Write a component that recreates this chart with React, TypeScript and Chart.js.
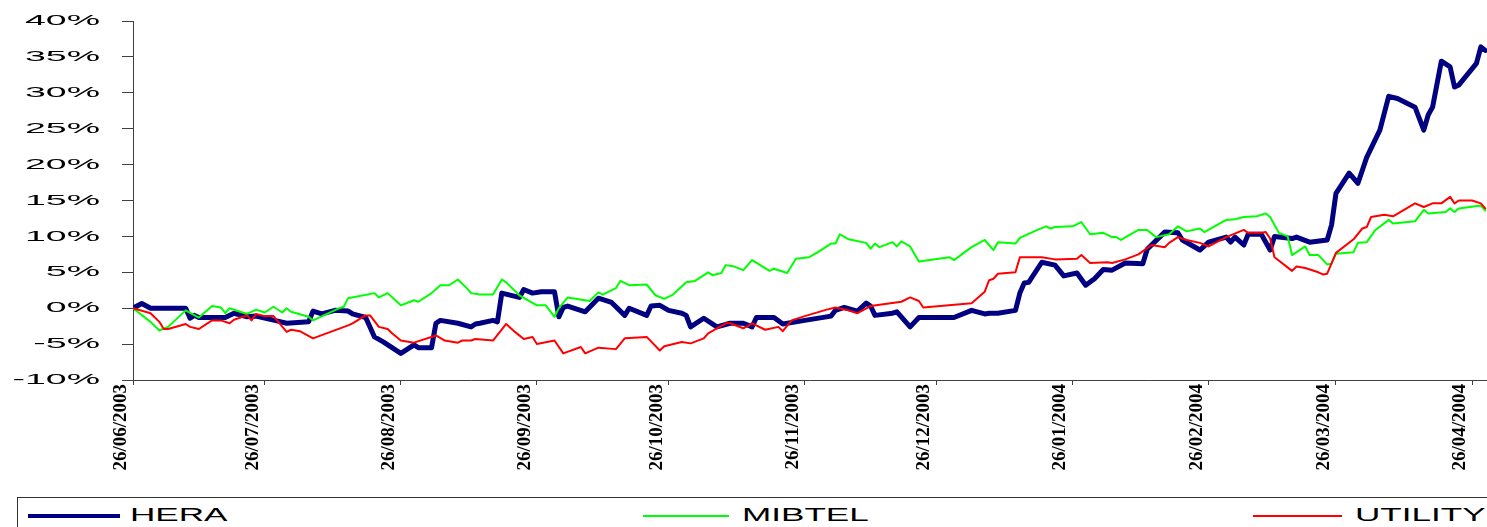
import React, { useEffect, useRef } from "react";
import { Chart, registerables } from "chart.js";

Chart.register(...registerables);

// x axis: calendar days since 26/06/2003
const xTickDays = [0, 30, 61, 92, 122, 153, 183, 214, 245, 274, 305];
const xTickLabels = [
  "26/06/2003", "26/07/2003", "26/08/2003", "26/09/2003", "26/10/2003", "26/11/2003",
  "26/12/2003", "26/01/2004", "26/02/2004", "26/03/2004", "26/04/2004",
];
const xMaxDay = 308.4;
const yMin = -10;
const yMax = 40;
const yStep = 5;

const seriesNames = ["HERA", "MIBTEL", "UTILITY"];

// [day, % change]
const heraPoints: [number, number][] = [
  [0, 0], [2, 0.65], [4, 0], [12, 0], [13, -1.4], [14, -1.0], [15, -1.3], [21, -1.3], [23, -0.7],
  [26, -1.2], [28, -1.1], [33, -1.8], [35, -2.1], [40, -1.9], [41, -0.4], [43, -0.8], [46, -0.3],
  [49, -0.4], [50, -0.8], [53, -1.3], [55, -4.0], [57, -4.7], [61, -6.3], [64, -5.1], [65, -5.5],
  [68, -5.5], [69, -2.1], [70, -1.7], [74, -2.1], [77, -2.6], [78, -2.2], [79, -2.1], [82, -1.7],
  [83, -1.9], [84, 2.1], [88, 1.5], [89, 2.6], [91, 2.1], [93, 2.3], [96, 2.3], [97, -1.2],
  [98, 0.1], [99, 0.3], [103, -0.5], [106, 1.4], [109, 0.8], [112, -1.0], [113, 0], [117, -1.0],
  [118, 0.3], [120, 0.4], [122, -0.3], [125, -0.7], [126, -1.0], [127, -2.6], [130, -1.4],
  [133, -2.6], [136, -2.1], [139, -2.1], [141, -2.6], [142, -1.3], [146, -1.3], [148, -2.2],
  [153, -1.7], [159, -1.1], [160, -0.3], [162, 0.1], [165, -0.4], [167, 0.7], [168, 0.3],
  [169, -1.0], [173, -0.7], [174, -0.5], [177, -2.6], [179, -1.3], [187, -1.3], [191, -0.3],
  [194, -0.8], [195, -0.7], [197, -0.7], [201, -0.3], [202, 2.1], [203, 3.5], [204, 3.6],
  [207, 6.4], [210, 6.0], [212, 4.5], [215, 4.9], [217, 3.2], [219, 4.1], [221, 5.4], [223, 5.3],
  [226, 6.3], [230, 6.2], [231, 8.2], [234, 10.0], [235, 10.6], [238, 10.5], [239, 9.5],
  [243, 8.1], [245, 9.2], [249, 9.9], [250, 9.2], [251, 9.9], [253, 8.8], [254, 10.3],
  [257, 10.3], [259, 8.1], [260, 10.0], [264, 9.7], [265, 9.9], [268, 9.2], [272, 9.5],
  [273, 11.6], [274, 16.0], [277, 18.8], [279, 17.4], [281, 21.0], [284, 24.8], [286, 29.5],
  [288, 29.2], [292, 28.0], [294, 24.8], [295, 26.9], [296, 28.0], [298, 34.4], [300, 33.6],
  [301, 30.8], [302, 31.1], [306, 34.1], [307, 36.4], [308, 35.9],
];

const mibtelPoints: [number, number][] = [
  [0, 0], [4, -1.9], [6, -3.1], [8, -2.6], [12, -0.3], [15, -1.3], [18, 0.3], [20, 0.1], [21, -0.7],
  [22, 0], [26, -0.8], [28, -0.2], [30, -0.6], [32, 0.2], [34, -0.6], [35, 0], [36, -0.5],
  [40, -1.2], [41, -1.7], [47, 0], [48, 0.2], [49, 1.4], [55, 2.1], [56, 1.5], [58, 2.1],
  [61, 0.4], [64, 1.1], [65, 0.9], [68, 2.1], [70, 3.2], [72, 3.2], [74, 4.0], [76, 2.8],
  [77, 2.1], [79, 1.9], [82, 1.9], [84, 4.0], [85, 3.6], [88, 1.8], [92, 0.4], [94, 0.4],
  [96, -1.2], [97, 0], [99, 1.5], [104, 1.0], [106, 2.2], [107, 1.9], [110, 2.8], [111, 3.8],
  [113, 3.2], [117, 3.3], [119, 1.8], [121, 1.3], [123, 1.9], [126, 3.6], [128, 3.8], [131, 5.0],
  [132, 4.6], [134, 4.9], [135, 6.0], [137, 5.8], [139, 5.3], [141, 6.7], [145, 5.2], [146, 5.5],
  [149, 4.9], [151, 6.9], [154, 7.1], [156, 7.8], [159, 9.0], [160, 9.0], [161, 10.3], [163, 9.6],
  [167, 9.1], [168, 8.3], [169, 9.0], [170, 8.5], [173, 9.2], [174, 8.6], [175, 9.3], [177, 8.6],
  [179, 6.5], [186, 7.1], [187, 6.7], [191, 8.5], [194, 9.5], [196, 8.1], [197, 9.2], [201, 9.0],
  [202, 9.8], [206, 10.9], [208, 11.4], [209, 11.1], [210, 11.3], [214, 11.4], [216, 12.0],
  [218, 10.3], [221, 10.5], [223, 9.9], [224, 9.9], [225, 9.5], [229, 10.9], [231, 10.9],
  [233, 9.9], [236, 10.3], [238, 11.4], [240, 10.7], [243, 11.1], [244, 10.6], [249, 12.3],
  [251, 12.4], [253, 12.7], [256, 12.8], [258, 13.2], [259, 12.7], [261, 10.5], [263, 10.0],
  [264, 7.4], [267, 8.6], [268, 7.4], [270, 7.4], [272, 6.1], [273, 6.2], [274, 7.6], [278, 7.8],
  [279, 9.1], [281, 9.2], [283, 10.9], [286, 12.3], [287, 11.8], [292, 12.1], [294, 13.7],
  [295, 13.2], [299, 13.4], [300, 13.9], [301, 13.4], [302, 13.9], [307, 14.3], [308, 13.6],
];

const utilityPoints: [number, number][] = [
  [0, 0], [4, -0.7], [6, -1.9], [7, -2.9], [8, -2.9], [12, -2.2], [13, -2.6], [15, -2.9],
  [18, -1.7], [20, -1.7], [22, -2.1], [23, -1.6], [26, -1.0], [27, -1.7], [28, -0.8], [30, -1.1],
  [32, -1.1], [35, -3.3], [36, -3.0], [38, -3.2], [41, -4.2], [49, -2.4], [50, -2.1], [53, -1.0],
  [54, -1.0], [56, -2.6], [58, -2.9], [59, -3.5], [61, -4.5], [64, -4.8], [69, -3.8], [71, -4.5],
  [74, -4.8], [75, -4.5], [77, -4.5], [78, -4.3], [82, -4.5], [85, -2.2], [87, -3.3], [89, -4.3],
  [91, -4.0], [92, -5.0], [96, -4.5], [98, -6.3], [102, -5.4], [103, -6.3], [106, -5.5],
  [110, -5.7], [112, -4.2], [117, -4.0], [120, -5.9], [121, -5.3], [125, -4.7], [127, -4.9],
  [130, -4.2], [131, -3.5], [135, -2.1], [136, -2.1], [139, -2.8], [140, -2.5], [141, -2.1],
  [144, -3.0], [147, -2.6], [148, -3.2], [150, -1.7], [153, -1.1], [158, -0.2], [160, 0.1],
  [163, -0.3], [165, -0.7], [168, 0.3], [175, 0.9], [177, 1.5], [179, 1.0], [180, 0.1],
  [191, 0.7], [194, 2.3], [195, 3.9], [196, 4.1], [197, 4.8], [201, 5.0], [202, 7.1], [207, 7.1],
  [210, 6.8], [215, 6.9], [216, 7.4], [218, 6.3], [222, 6.4], [223, 6.3], [226, 6.8], [229, 7.5],
  [232, 8.8], [235, 8.5], [236, 9.1], [238, 9.9], [240, 9.5], [243, 9.1], [245, 8.6], [249, 9.9],
  [253, 10.9], [254, 10.5], [257, 10.5], [258, 10.6], [259, 9.7], [260, 7.1], [264, 5.2],
  [265, 5.8], [267, 5.6], [270, 5.0], [271, 4.7], [272, 4.8], [274, 7.7], [278, 9.6], [280, 11.1],
  [281, 11.3], [282, 12.7], [285, 13.0], [287, 12.8], [292, 14.6], [294, 14.1], [296, 14.6],
  [298, 14.6], [300, 15.5], [301, 14.6], [302, 15.0], [305, 15.0], [307, 14.6], [308, 13.9],
];

const seriesColors = ["#000080", "#00ff00", "#ff0000"];
const seriesWidths = [5, 2, 2];

const AXIS_COLOR = "#404040";

const stretchedLabels = {
  id: "stretchedLabels",
  afterDraw(chart: any) {
    const ctx = chart.ctx as CanvasRenderingContext2D;
    const ys = chart.scales.y;
    const xs = chart.scales.x;
    const area = chart.chartArea;
    ctx.save();
    ctx.fillStyle = "#000";
    // y labels (horizontally stretched, as in the reference)
    ctx.font = "15px 'Liberation Sans', Arial, sans-serif";
    ctx.textAlign = "right";
    ctx.textBaseline = "middle";
    ys.ticks.forEach((t: any) => {
      const y = ys.getPixelForValue(t.value);
      ctx.save();
      ctx.translate(area.left - 33, y);
      ctx.scale(2.5, 1);
      ctx.fillText(`${t.value}%`, 0, 0);
      ctx.restore();
    });
    // x labels rotated, reading upward
    ctx.font = "bold 19px 'Liberation Serif', 'Times New Roman', serif";
    ctx.textAlign = "right";
    ctx.textBaseline = "middle";
    xTickDays.forEach((d, i) => {
      const x = xs.getPixelForValue(d) - 12;
      ctx.save();
      ctx.translate(x, area.bottom + 4);
      ctx.rotate(-Math.PI / 2);
      ctx.fillText(xTickLabels[i], 0, 0);
      ctx.restore();
    });
    ctx.restore();
  },
};

export default function App() {
  const canvasRef = useRef<HTMLCanvasElement | null>(null);

  useEffect(() => {
    if (!canvasRef.current) return;
    const all = [heraPoints, mibtelPoints, utilityPoints];
    const chart = new Chart(canvasRef.current, {
      type: "line",
      data: {
        datasets: all.map((pts, i) => ({
          label: seriesNames[i],
          data: pts.map(([x, y]) => ({ x, y })),
          borderColor: seriesColors[i],
          backgroundColor: seriesColors[i],
          borderWidth: seriesWidths[i],
          pointRadius: 0,
          tension: 0,
          fill: false,
          borderJoinStyle: "round",
          borderCapStyle: "round",
          order: 3 - i,
        })),
      },
      options: {
        animation: false,
        responsive: false,
        maintainAspectRatio: false,
        layout: { padding: { top: 21, left: 0, right: 0, bottom: 0 } },
        plugins: {
          legend: { display: false },
          tooltip: { enabled: false },
        },
        scales: {
          x: {
            type: "linear",
            min: 0,
            max: xMaxDay,
            afterBuildTicks: (s: any) => {
              s.ticks = xTickDays.map((v) => ({ value: v }));
            },
            afterFit: (s: any) => {
              s.height = 110;
            },
            ticks: { display: false },
            grid: { drawOnChartArea: false, drawTicks: true, tickLength: 5, color: AXIS_COLOR },
            border: { display: true, color: AXIS_COLOR, width: 1 },
          },
          y: {
            type: "linear",
            min: yMin,
            max: yMax,
            afterFit: (s: any) => {
              s.width = 133;
            },
            ticks: { display: false, stepSize: yStep },
            grid: { drawOnChartArea: false, drawTicks: true, tickLength: 11, color: AXIS_COLOR },
            border: { display: true, color: AXIS_COLOR, width: 1 },
          },
        },
      } as any,
      plugins: [stretchedLabels],
    });
    return () => chart.destroy();
  }, []);

  const legendFont = "'Liberation Sans', Arial, sans-serif";
  const items = [
    { lineLeft: 28, lineWidth: 92, textLeft: 130, h: 4 },
    { lineLeft: 643, lineWidth: 86, textLeft: 742, h: 2 },
    { lineLeft: 1253, lineWidth: 89, textLeft: 1355, h: 2 },
  ];

  return (
    <div
      style={{
        position: "absolute",
        left: 0,
        top: 0,
        width: 1487,
        height: 527,
        overflow: "hidden",
        background: "#fff",
      }}
    >
      <canvas ref={canvasRef} width={1487} height={490} style={{ display: "block" }} />
      <div
        style={{
          position: "absolute",
          left: 17,
          top: 497,
          width: 1500,
          height: 60,
          border: "1.5px solid #333",
          boxSizing: "border-box",
        }}
      />
      {items.map((it, i) => (
        <React.Fragment key={seriesNames[i]}>
          <div
            style={{
              position: "absolute",
              left: it.lineLeft,
              top: 516 - it.h / 2,
              width: it.lineWidth,
              height: it.h,
              background: seriesColors[i],
            }}
          />
          <div
            style={{
              position: "absolute",
              left: it.textLeft,
              top: 506,
              fontFamily: legendFont,
              fontSize: 18,
              lineHeight: "18px",
              color: "#000",
              whiteSpace: "nowrap",
              transform: "scaleX(1.95)",
              transformOrigin: "left top",
            }}
          >
            {seriesNames[i]}
          </div>
        </React.Fragment>
      ))}
    </div>
  );
}
